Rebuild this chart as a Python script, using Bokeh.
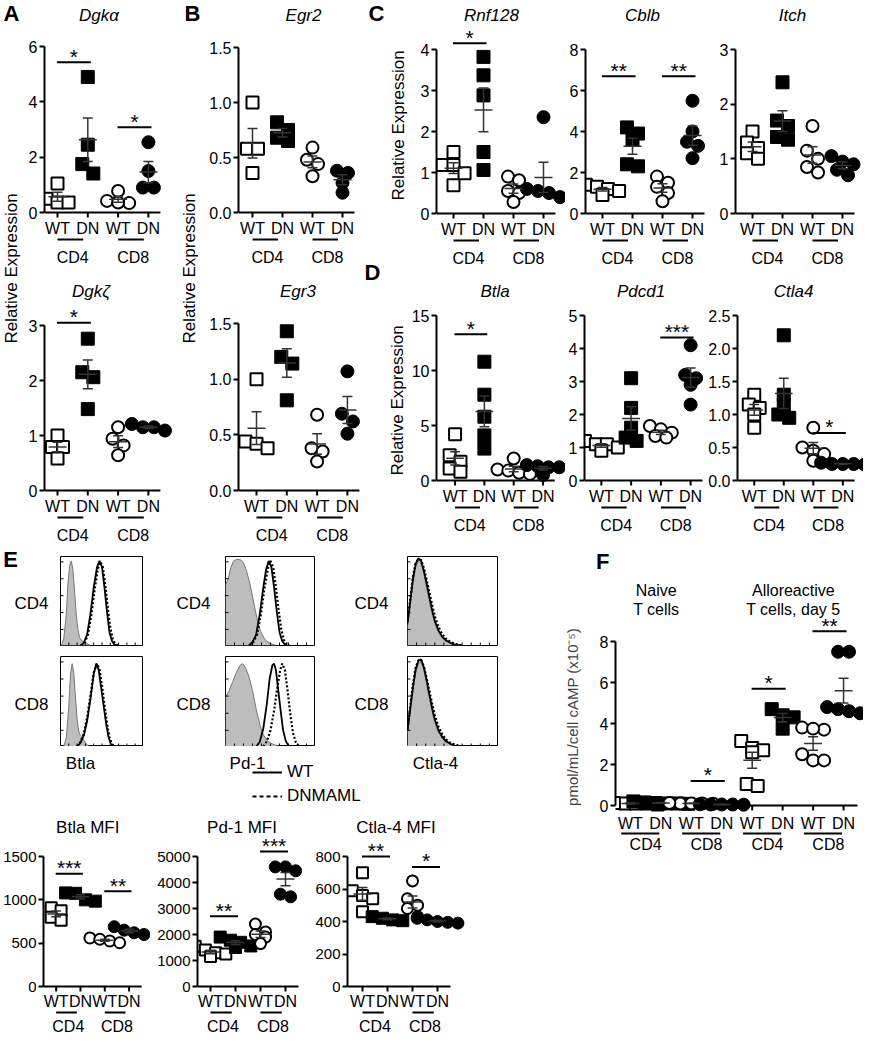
import numpy as np
from bokeh.plotting import figure
from bokeh.layouts import row, column
from bokeh.models import (Range1d, FixedTicker, NumeralTickFormatter, Legend, LegendItem, Spacer, Div)
from bokeh.core.properties import value
from bokeh.embed import file_html
from bokeh.resources import INLINE

FONT = "Liberation Sans"

# ---------------- categories ----------------
GENOTYPES = ["WT", "DN", "WT", "DN"]
CELLS = ["CD4", "CD8"]
F_GENOTYPES = ["WT", "DN", "WT", "DN", "WT", "DN", "WT", "DN"]
F_CELLS = ["CD4", "CD8", "CD4", "CD8"]
F_HEADERS = [("Naive", "T cells"), ("Alloreactive", "T cells, day 5")]

# ---------------- A ----------------
dgka_wt_cd4 = [0.50, 1.05, 0.36, 0.36]
dgka_dn_cd4 = [4.90, 2.45, 1.75, 1.41]
dgka_wt_cd8 = [0.42, 0.78, 0.34, 0.36]
dgka_dn_cd8 = [2.54, 1.50, 0.90, 0.90]
dgka_ticks = [0, 2, 4, 6]
dgka_sig = [(0, 5.43, "*"), (1, 3.08, "*")]

dgkz_wt_cd4 = [1.00, 0.79, 0.79, 0.58]
dgkz_dn_cd4 = [2.76, 2.15, 2.06, 1.48]
dgkz_wt_cd8 = [1.15, 0.94, 0.82, 0.64]
dgkz_dn_cd8 = [1.15, 1.09, 1.21, 1.15]
dgkz_ticks = [0, 1, 2, 3]
dgkz_sig = [(0, 3.05, "*")]

# ---------------- B ----------------
egr2_wt_cd4 = [1.00, 0.58, 0.58, 0.36]
egr2_dn_cd4 = [0.82, 0.75, 0.68, 0.65]
egr2_wt_cd8 = [0.59, 0.48, 0.44, 0.33]
egr2_dn_cd8 = [0.38, 0.36, 0.27, 0.18]
egr_ticks = [0, 0.5, 1.0, 1.5]

egr3_wt_cd4 = [1.00, 0.44, 0.42, 0.38]
egr3_dn_cd4 = [1.43, 1.20, 1.14, 0.81]
egr3_wt_cd8 = [0.68, 0.38, 0.35, 0.26]
egr3_dn_cd8 = [1.07, 0.69, 0.62, 0.51]

# ---------------- C ----------------
rnf128_wt_cd4 = [1.50, 1.18, 1.18, 0.98, 0.69]
rnf128_dn_cd4 = [3.82, 3.37, 2.88, 1.50, 1.06]
rnf128_wt_cd8 = [0.90, 0.81, 0.55, 0.50, 0.28]
rnf128_dn_cd8 = [2.35, 0.60, 0.55, 0.40, 0.50]
rnf128_ticks = [0, 1, 2, 3, 4]
rnf128_sig = [(0, 4.15, "*")]

cblb_wt_cd4 = [1.40, 1.30, 1.20, 1.10, 0.90]
cblb_dn_cd4 = [4.20, 3.90, 3.60, 2.40, 2.30]
cblb_wt_cd8 = [1.80, 1.50, 1.30, 1.00, 0.60]
cblb_dn_cd8 = [5.50, 4.00, 3.50, 3.30, 2.70]
cblb_ticks = [0, 2, 4, 6, 8]
cblb_sig = [(0, 6.7, "**"), (1, 6.7, "**")]

itch_wt_cd4 = [1.50, 1.30, 1.20, 1.10, 1.00]
itch_dn_cd4 = [2.40, 1.70, 1.60, 1.40, 1.35]
itch_wt_cd8 = [1.60, 1.15, 1.00, 0.85, 0.75]
itch_dn_cd8 = [1.05, 0.95, 0.90, 0.80, 0.70]
itch_ticks = [0, 1, 2, 3]

# ---------------- D ----------------
btla_wt_cd4 = [4.2, 2.3, 1.7, 1.1, 0.8]
btla_dn_cd4 = [10.8, 7.8, 5.8, 4.1, 2.9]
btla_wt_cd8 = [2.0, 1.0, 0.9, 0.7, 0.6]
btla_dn_cd8 = [1.4, 1.3, 1.2, 1.2, 0.5]
btla_ticks = [0, 5, 10, 15]
btla_sig = [(0, 13.3, "*")]

pdcd1_wt_cd4 = [1.2, 1.1, 1.1, 1.0, 0.9]
pdcd1_dn_cd4 = [3.1, 2.2, 1.6, 1.3, 1.2]
pdcd1_wt_cd8 = [1.65, 1.55, 1.45, 1.35, 1.3]
pdcd1_dn_cd8 = [4.1, 3.2, 3.1, 2.9, 2.3]
pdcd1_ticks = [0, 1, 2, 3, 4, 5]
pdcd1_sig = [(1, 4.33, "***")]

ctla4_wt_cd4 = [1.3, 1.15, 1.1, 1.0, 0.8]
ctla4_dn_cd4 = [2.2, 1.3, 1.15, 1.0, 0.95]
ctla4_wt_cd8 = [0.8, 0.5, 0.45, 0.4, 0.3]
ctla4_dn_cd8 = [0.27, 0.25, 0.25, 0.24, 0.25]
ctla4_ticks = [0, 0.5, 1.0, 1.5, 2.0, 2.5]
ctla4_sig = [(1, 0.72, "*")]

# ---------------- E : histograms (x = % of axis width, y = % of max) ----------------
btla_cd4_iso = [(1, 0), (4, 8), (7, 35), (9, 70), (11, 90), (13, 95), (15, 85), (17, 60), (19, 35), (21, 18), (23, 9), (26, 5), (29, 4), (32, 2), (36, 0)]
btla_cd4_wt = [(24, 0), (28, 3), (32, 12), (36, 35), (40, 65), (44, 88), (47, 95), (50, 88), (53, 65), (56, 38), (59, 15), (62, 5), (65, 1), (68, 0)]
btla_cd4_dn = [(25, 0), (29, 3), (33, 12), (37, 33), (41, 62), (45, 86), (48, 94), (51, 88), (54, 68), (57, 42), (60, 20), (63, 7), (66, 2), (69, 0)]
btla_cd8_iso = [(4, 0), (7, 10), (10, 45), (12, 80), (14, 92), (16, 82), (18, 55), (20, 30), (22, 17), (24, 12), (26, 10), (28, 7), (31, 3), (34, 0)]
btla_cd8_wt = [(20, 0), (24, 4), (28, 12), (32, 28), (36, 52), (40, 80), (43, 92), (46, 85), (49, 65), (52, 45), (55, 25), (58, 10), (61, 2), (64, 0)]
btla_cd8_dn = [(20, 0), (24, 5), (28, 14), (32, 32), (36, 56), (40, 82), (44, 92), (47, 86), (50, 68), (53, 46), (56, 26), (59, 10), (62, 3), (65, 0)]
pd1_cd4_iso = [(0, 68), (3, 75), (6, 88), (9, 95), (13, 97), (17, 96), (20, 93), (23, 85), (27, 70), (31, 50), (35, 30), (39, 16), (43, 8), (47, 4), (51, 2), (56, 0)]
pd1_cd4_wt = [(26, 0), (30, 4), (34, 12), (38, 35), (42, 65), (45, 85), (48, 95), (51, 88), (54, 65), (57, 38), (60, 15), (63, 5), (66, 1), (69, 0)]
pd1_cd4_dn = [(27, 0), (31, 4), (35, 12), (39, 33), (43, 62), (47, 86), (50, 95), (53, 88), (56, 66), (59, 40), (62, 18), (65, 6), (68, 2), (71, 0)]
pd1_cd8_iso = [(0, 55), (4, 62), (8, 72), (12, 82), (16, 90), (19, 92), (22, 88), (26, 78), (30, 62), (34, 42), (38, 25), (42, 13), (46, 7), (50, 4), (54, 2), (60, 0)]
pd1_cd8_wt = [(34, 0), (38, 5), (42, 20), (46, 48), (49, 75), (52, 90), (54, 92), (56, 85), (58, 68), (61, 42), (64, 18), (67, 6), (70, 1), (73, 0)]
pd1_cd8_dn = [(42, 0), (46, 6), (50, 18), (54, 40), (58, 68), (61, 86), (63, 92), (66, 85), (69, 62), (72, 36), (75, 15), (78, 5), (81, 1), (84, 0)]
ctla4_cd4_iso = [(0, 20), (3, 45), (6, 70), (9, 88), (12, 95), (15, 92), (18, 80), (21, 65), (24, 50), (27, 36), (30, 25), (34, 15), (38, 9), (42, 5), (47, 3), (52, 1), (58, 0)]
ctla4_cd4_wt = [(0, 25), (3, 50), (6, 75), (9, 92), (12, 98), (15, 95), (18, 84), (21, 70), (24, 55), (27, 40), (30, 28), (34, 17), (38, 10), (42, 6), (47, 3), (52, 1), (58, 0)]
ctla4_cd4_dn = [(0, 28), (3, 52), (6, 78), (9, 93), (12, 97), (15, 96), (18, 87), (21, 74), (24, 60), (27, 46), (30, 33), (34, 21), (38, 13), (42, 8), (47, 4), (53, 2), (60, 0)]
ctla4_cd8_iso = [(0, 15), (3, 38), (6, 62), (9, 82), (12, 92), (15, 94), (18, 85), (21, 70), (24, 54), (27, 39), (30, 27), (34, 16), (38, 9), (42, 5), (47, 3), (52, 1), (58, 0)]
ctla4_cd8_wt = [(0, 18), (3, 42), (6, 66), (9, 86), (12, 95), (15, 97), (18, 88), (21, 74), (24, 58), (27, 43), (30, 30), (34, 18), (38, 11), (42, 6), (47, 3), (52, 1), (58, 0)]
ctla4_cd8_dn = [(0, 20), (3, 45), (6, 70), (9, 88), (12, 96), (15, 96), (18, 89), (21, 76), (24, 62), (27, 48), (30, 35), (34, 22), (38, 14), (42, 8), (47, 4), (53, 2), (60, 0)]
HIST_MARKERS = ["Btla", "Pd-1", "Ctla-4"]
LEGEND_LABELS = ["WT", "DNMAML"]

# ---------------- E : MFI ----------------
btla_mfi_wt_cd4 = [910, 875, 800, 765]
btla_mfi_dn_cd4 = [1080, 1075, 1000, 985]
btla_mfi_wt_cd8 = [560, 545, 525, 505]
btla_mfi_dn_cd8 = [690, 650, 620, 600]
btla_mfi_ticks = [0, 500, 1000, 1500]
btla_mfi_sig = [(0, 1300, "***"), (1, 1100, "**")]

pd1_mfi_wt_cd4 = [1550, 1400, 1300, 1250, 1150]
pd1_mfi_dn_cd4 = [1900, 1780, 1700, 1560, 1500]
pd1_mfi_wt_cd8 = [2400, 2100, 2000, 1900, 1650]
pd1_mfi_dn_cd8 = [4600, 4600, 4450, 3550, 3450]
pd1_mfi_ticks = [0, 1000, 2000, 3000, 4000, 5000]
pd1_mfi_sig = [(0, 2700, "**"), (1, 5190, "***")]

ctla4_mfi_wt_cd4 = [700, 590, 560, 540, 460]
ctla4_mfi_dn_cd4 = [430, 420, 410, 405]
ctla4_mfi_wt_cd8 = [650, 540, 500, 480, 430]
ctla4_mfi_dn_cd8 = [420, 410, 400, 395, 390]
ctla4_mfi_ticks = [0, 200, 400, 600, 800]
ctla4_mfi_sig = [(0, 800, "**"), (1, 736, "*")]

# ---------------- F : cAMP ----------------
camp_naive_wt_cd4 = [0.15, 0.10, 0.10, 0.05, 0.10, 0.12]
camp_naive_dn_cd4 = [0.20, 0.15, 0.10, 0.10, 0.12, 0.08]
camp_naive_wt_cd8 = [0.10, 0.10, 0.08, 0.12, 0.10]
camp_naive_dn_cd8 = [0.05, 0.05, 0.04, 0.06, 0.05]
camp_allo_wt_cd4 = [3.15, 2.80, 2.70, 2.60, 1.05, 0.95]
camp_allo_dn_cd4 = [4.70, 4.40, 4.30, 3.75]
camp_allo_wt_cd8 = [3.80, 3.70, 3.75, 2.50, 2.20, 2.20]
camp_allo_dn_cd8 = [7.50, 7.50, 4.80, 4.70, 4.50, 4.60]
camp_ticks = [0, 2, 4, 6, 8]
camp_sig = [(1, 1.2, "*"), (2, 5.7, "*"), (3, 8.5, "**")]
camp_ylabel = "pmol/mL/cell cAMP (x10\u207b\u2075)"

# ---------------- styles ----------------
GROUP_STYLE = [("square", "white"), ("square", "black"), ("circle", "white"), ("circle", "black")]
HIST_YTICKS = [18, 37, 56, 75, 94]
HIST_XTICKS = [10, 20, 30, 40, 50, 60, 70, 80, 90]


def base_fig(W, H, xr, yr, **kw):
    p = figure(width=W, height=H, x_range=xr, y_range=yr, toolbar_location=None,
               output_backend="svg", title=None, **kw)
    p.outline_line_color = None
    p.background_fill_color = "white"
    p.border_fill_color = "white"
    p.grid.visible = False
    return p


def txt(p, x, y, t, size="16px", align="center", baseline="middle", style="normal", angle=0.0):
    p.text(x=x, y=y, text=t, text_font=value(FONT), text_font_size=size, text_align=align,
           text_baseline=baseline, text_font_style=style, text_color="black", angle=angle)


def swarm(vals, ppu, size):
    v = np.asarray(vals, float)
    order = list(np.argsort(-v, kind="stable"))
    offs = np.zeros(len(v))
    thr = 0.75 * size
    clusters, cur = [], [order[0]]
    for idx in order[1:]:
        if (v[cur[0]] - v[idx]) * ppu < thr:
            cur.append(idx)
        else:
            clusters.append(cur)
            cur = [idx]
    clusters.append(cur)
    for c in clusters:
        m = len(c)
        for j, idx in enumerate(c):
            offs[idx] = (j - (m - 1) / 2.0) * 0.85 * size
    return offs


def dot_panel(W, H, L, v0, vtop, ymax, yticks, groups, sig=(), title=None, title_y=15,
              title_dx=-5, fmt=None, g0=15, gs=30.0, tail=12, below=(16, 27, 45), T=0,
              ylabel=None, size=13, genos=GENOTYPES, cells=CELLS, ul=(0.0, -0.15),
              tick_fs="16px", headers=(), title_style="italic"):
    ppu = (v0 - vtop) / ymax
    u = 1.0 / ppu
    xlo = 1 - g0 / gs
    xhi = xlo + (W - L) / gs
    ylo = -(H - v0) * u
    yhi = ymax + (vtop - T) * u
    p = base_fig(W, H, Range1d(xlo, xhi), Range1d(ylo, yhi), x_axis_type=None,
                 min_border_left=L, min_border_right=0, min_border_top=T, min_border_bottom=0)
    ax = p.yaxis[0]
    ax.ticker = FixedTicker(ticks=yticks)
    ax.bounds = (0, ymax)
    if fmt:
        ax.formatter = NumeralTickFormatter(format=fmt)
    ax.axis_line_width = 2
    ax.major_tick_line_width = 2
    ax.major_tick_out = 5
    ax.major_tick_in = 0
    ax.minor_tick_line_color = None
    ax.major_label_text_font = FONT
    ax.major_label_text_font_size = tick_fs
    ax.major_label_text_color = "black"
    ax.major_label_standoff = 2
    if ylabel:
        ax.axis_label = ylabel
        ax.axis_label_text_font = FONT
        ax.axis_label_text_font_size = "15px"
        ax.axis_label_text_font_style = "normal"
        ax.axis_label_standoff = 16

    def ypx(px):
        return ymax + (vtop - px) * u

    n = len(groups)
    pos = np.arange(1, n + 1, dtype=float)
    # x axis drawn at y = 0
    p.segment(x0=[xlo], y0=[0], x1=[n + tail / gs], y1=[0], line_width=2, line_color="black")
    p.segment(x0=pos, y0=[0] * n, x1=pos, y1=[-5 * u] * n, line_width=2, line_color="black")
    txt(p, pos, [-below[0] * u] * n, genos[:n])
    npair = n // 2
    a = pos[0::2]
    b = pos[1::2]
    p.segment(x0=a + ul[0], y0=[-below[1] * u] * npair, x1=b + ul[1], y1=[-below[1] * u] * npair,
              line_width=2, line_color="black")
    txt(p, (a + b) / 2, [-below[2] * u] * npair, cells[:npair])
    # points
    for i, vals in enumerate(groups):
        mk, fill = GROUP_STYLE[i % 4]
        offs = swarm(vals, ppu, size)
        xs = pos[i] + offs / gs
        if fill == "white":
            p.scatter(x=xs, y=vals, marker=mk, size=size - 1, fill_color="white",
                      line_color="black", line_width=2)
        else:
            p.scatter(x=xs, y=vals, marker=mk, size=size, fill_color="black",
                      line_color="black", line_width=1)
    # mean +/- SEM
    for i, vals in enumerate(groups):
        m = float(np.mean(vals))
        s = float(np.std(vals, ddof=1) / np.sqrt(len(vals)))
        hw, cw = 9.0 / gs, 5.0 / gs
        c = pos[i]
        p.segment(x0=[c - hw, c, c - cw, c - cw], y0=[m, m - s, m + s, m - s],
                  x1=[c + hw, c, c + cw, c + cw], y1=[m, m + s, m + s, m - s],
                  line_color="#333333", line_width=1.5)
    # significance bars
    for (k, yv, stars) in sig:
        ga, gb = pos[2 * k], pos[2 * k + 1]
        p.segment(x0=[ga - 0.02], y0=[yv], x1=[gb + 0.1], y1=[yv], line_width=2, line_color="black")
        txt(p, [(ga + gb) / 2 + 0.04], [yv + 6 * u], [stars], size="21px", baseline="alphabetic")
    if title:
        txt(p, [(1 + n) / 2 + title_dx / gs], [ypx(title_y)], [title], size="17px", style=title_style)
    for (hx, hy, ht) in headers:
        txt(p, [hx], [ypx(hy)], [ht], size="16px")
    return p


def text_fig(W, H, items):
    p = base_fig(W, H, Range1d(0, W), Range1d(0, H), x_axis_type=None, y_axis_type=None, min_border=0)
    for (x, y, t, size, style, angle) in items:
        txt(p, [x], [H - y], [t], size=size, style=style, angle=angle)
    return p


def hist_panel(W, H, T, fh, iso, wt, dn):
    p = base_fig(W, H, Range1d(0, 100), Range1d(0, 100), x_axis_type=None, y_axis_type=None,
                 min_border_left=0, min_border_top=T, min_border_right=0,
                 min_border_bottom=H - T - fh)
    p.outline_line_color = "black"
    p.outline_line_width = 1
    ix, iy = zip(*iso)
    p.varea(x=list(ix), y1=0, y2=list(iy), fill_color="#bdbdbd")
    p.line(list(ix), list(iy), line_color="#777777", line_width=1)
    wx, wy = zip(*wt)
    dx, dy = zip(*dn)
    p.line(list(wx), list(wy), line_color="black", line_width=1.8)
    p.line(list(dx), list(dy), line_color="black", line_width=2.2, line_dash="2 2")
    # tiny inward tick marks along the left and bottom edges of the box
    tx = 300.0 / W
    ty = 300.0 / fh
    ny, nx = len(HIST_YTICKS), len(HIST_XTICKS)
    p.segment(x0=[0] * ny, y0=HIST_YTICKS, x1=[tx] * ny, y1=HIST_YTICKS, line_color="black", line_width=1)
    p.segment(x0=HIST_XTICKS, y0=[0] * nx, x1=HIST_XTICKS, y1=[ty] * nx, line_color="black", line_width=1)
    return p


# ================= top section =================
RE = "Relative Expression"
textA = text_fig(22, 546, [(11, 13, "A", "22px", "bold", 0.0), (11, 268, RE, "17px", "normal", np.pi / 2)])
textB = text_fig(24, 546, [(16, 13, "B", "22px", "bold", 0.0), (13, 268, RE, "17px", "normal", np.pi / 2)])
textCD = text_fig(46, 546, [(14, 13, "C", "22px", "bold", 0.0), (10, 272, "D", "22px", "bold", 0.0),
                            (36, 125, RE, "17px", "normal", np.pi / 2),
                            (35, 400, RE, "17px", "normal", np.pi / 2)])

pA1 = dot_panel(154, 273, 22, 212, 46, 6, dgka_ticks,
                [dgka_wt_cd4, dgka_dn_cd4, dgka_wt_cd8, dgka_dn_cd8], dgka_sig,
                title="Dgk\u03b1", title_y=15, title_dx=-4, g0=13, gs=30.3)
pA2 = dot_panel(154, 273, 22, 217, 52, 3, dgkz_ticks,
                [dgkz_wt_cd4, dgkz_dn_cd4, dgkz_wt_cd8, dgkz_dn_cd8], dgkz_sig,
                title="Dgk\u03b6", title_y=18, title_dx=-12, g0=13, gs=30.3)
pB1 = dot_panel(162, 273, 38, 212, 47, 1.5, egr_ticks,
                [egr2_wt_cd4, egr2_dn_cd4, egr2_wt_cd8, egr2_dn_cd8],
                title="Egr2", title_y=15, title_dx=6, fmt="0.0", g0=14, gs=30)
pB2 = dot_panel(162, 273, 38, 217, 50, 1.5, egr_ticks,
                [egr3_wt_cd4, egr3_dn_cd4, egr3_wt_cd8, egr3_dn_cd8],
                title="Egr3", title_y=18, title_dx=-4, fmt="0.0", g0=18, gs=30.3)
pC1 = dot_panel(157, 273, 28, 213, 49, 4, rnf128_ticks,
                [rnf128_wt_cd4, rnf128_dn_cd4, rnf128_wt_cd8, rnf128_dn_cd8], rnf128_sig,
                title="Rnf128", title_y=15, title_dx=-7, g0=17, gs=30)
pC2 = dot_panel(150, 273, 20, 213, 49, 8, cblb_ticks,
                [cblb_wt_cd4, cblb_dn_cd4, cblb_wt_cd8, cblb_dn_cd8], cblb_sig,
                title="Cblb", title_y=15, title_dx=-5, g0=17, gs=30)
pC3 = dot_panel(148, 273, 20, 213, 49, 3, itch_ticks,
                [itch_wt_cd4, itch_dn_cd4, itch_wt_cd8, itch_dn_cd8],
                title="Itch", title_y=15, title_dx=-5, g0=17, gs=30)
pD1 = dot_panel(157, 273, 25, 207, 42, 15, btla_ticks,
                [btla_wt_cd4, btla_dn_cd4, btla_wt_cd8, btla_dn_cd8], btla_sig,
                title="Btla", title_y=18, title_dx=-4, g0=19, gs=30)
pD2 = dot_panel(140, 273, 18, 207, 42, 5, pdcd1_ticks,
                [pdcd1_wt_cd4, pdcd1_dn_cd4, pdcd1_wt_cd8, pdcd1_dn_cd8], pdcd1_sig,
                title="Pdcd1", title_y=18, title_dx=-5, g0=17, gs=30)
pD3 = dot_panel(158, 273, 30, 207, 42, 2.5, ctla4_ticks,
                [ctla4_wt_cd4, ctla4_dn_cd4, ctla4_wt_cd8, ctla4_dn_cd8], ctla4_sig,
                title="Ctla4", title_y=18, title_dx=-5, fmt="0.0", g0=17, gs=30)

top = row(textA, column(pA1, pA2), textB, column(pB1, pB2), textCD,
          column(row(pC1, pC2, pC3), row(pD1, pD2, pD3)))

# ================= E histograms =================
tE1 = text_fig(60, 200, [(10, 13, "E", "22px", "bold", 0.0),
                         (31, 57, CELLS[0], "17px", "normal", 0.0),
                         (31, 158, CELLS[1], "17px", "normal", 0.0)])
tE2 = text_fig(82, 200, [(50, 57, CELLS[0], "17px", "normal", 0.0),
                         (50, 158, CELLS[1], "17px", "normal", 0.0)])
tE3 = text_fig(92, 200, [(56, 57, CELLS[0], "17px", "normal", 0.0),
                         (56, 158, CELLS[1], "17px", "normal", 0.0)])
h11 = hist_panel(83, 104, 10, 89, btla_cd4_iso, btla_cd4_wt, btla_cd4_dn)
h12 = hist_panel(83, 96, 6, 90, btla_cd8_iso, btla_cd8_wt, btla_cd8_dn)
h21 = hist_panel(90, 104, 10, 89, pd1_cd4_iso, pd1_cd4_wt, pd1_cd4_dn)
h22 = hist_panel(90, 96, 6, 90, pd1_cd8_iso, pd1_cd8_wt, pd1_cd8_dn)
h31 = hist_panel(91, 104, 10, 89, ctla4_cd4_iso, ctla4_cd4_wt, ctla4_cd4_dn)
h32 = hist_panel(91, 96, 6, 90, ctla4_cd8_iso, ctla4_cd8_wt, ctla4_cd8_dn)

hist_boxes = row(tE1, column(h11, h12), tE2, column(h21, h22), tE3, column(h31, h32),
                 Spacer(width=62, height=200))

# strip under the histograms: marker names + line-style legend
strip = base_fig(560, 62, Range1d(0, 560), Range1d(0, 62), x_axis_type=None, y_axis_type=None,
                 min_border=0)
txt(strip, [80, 247, 435], [62 - 17] * 3, HIST_MARKERS, size="17px")
r_wt = strip.line([-50, -40], [-50, -50], line_color="black", line_width=2)
r_dn = strip.line([-50, -40], [-50, -50], line_color="black", line_width=2, line_dash="4 3")
legend = Legend(items=[LegendItem(label=LEGEND_LABELS[0], renderers=[r_wt]),
                       LegendItem(label=LEGEND_LABELS[1], renderers=[r_dn])],
                location=(252, 2), orientation="vertical", border_line_color=None,
                background_fill_alpha=0, padding=0, margin=0, spacing=4, glyph_width=30,
                glyph_height=20, label_height=20, label_standoff=5, label_text_font=FONT,
                label_text_font_size="17px", label_text_color="black")
strip.add_layout(legend)

hist_block = column(hist_boxes, strip)

# ================= E MFI =================
m1 = dot_panel(150, 226, 40, 178, 48, 1500, btla_mfi_ticks,
               [btla_mfi_wt_cd4, btla_mfi_dn_cd4, btla_mfi_wt_cd8, btla_mfi_dn_cd8], btla_mfi_sig,
               title="Btla MFI", title_y=19, title_dx=-5, g0=13, gs=25, tail=13,
               below=(15, 26, 40), size=12, title_style="normal", tick_fs="15px")
m2 = dot_panel(155, 226, 47, 178, 48, 5000, pd1_mfi_ticks,
               [pd1_mfi_wt_cd4, pd1_mfi_dn_cd4, pd1_mfi_wt_cd8, pd1_mfi_dn_cd8], pd1_mfi_sig,
               title="Pd-1 MFI", title_y=19, title_dx=-6, g0=13, gs=25, tail=13,
               below=(15, 26, 40), size=12, title_style="normal", tick_fs="15px")
m3 = dot_panel(255, 226, 42, 178, 48, 800, ctla4_mfi_ticks,
               [ctla4_mfi_wt_cd4, ctla4_mfi_dn_cd4, ctla4_mfi_wt_cd8, ctla4_mfi_dn_cd8], ctla4_mfi_sig,
               title="Ctla-4 MFI", title_y=19, title_dx=-4, g0=15, gs=25, tail=13,
               below=(15, 26, 40), size=12, title_style="normal", tick_fs="15px")
mfi_row = row(m1, m2, m3)

# ================= F =================
textF = Div(text="<span style=\"position:relative; left:31px; top:0px; font-family:'Liberation Sans';"
                 " font-size:22px; font-weight:bold; line-height:22px;\">F</span>",
            width=303, height=24)
pF = dot_panel(303, 273, 53, 225, 61, 8, camp_ticks,
               [camp_naive_wt_cd4, camp_naive_dn_cd4, camp_naive_wt_cd8, camp_naive_dn_cd8,
                camp_allo_wt_cd4, camp_allo_dn_cd4, camp_allo_wt_cd8, camp_allo_dn_cd8],
               camp_sig, g0=15, gs=30.7, tail=14, below=(18, 28, 39), T=0,
               ylabel=camp_ylabel, genos=F_GENOTYPES, cells=F_CELLS, ul=(-0.3, -0.05),
               headers=[(1.85, 10, F_HEADERS[0][0]), (1.85, 29, F_HEADERS[0][1]),
                        (6.35, 10, F_HEADERS[1][0]), (6.35, 29, F_HEADERS[1][1])])

bottom = row(column(hist_block, mfi_row), column(textF, pF))
page = column(top, bottom)

open("out.html", "w").write(file_html(page, INLINE))
